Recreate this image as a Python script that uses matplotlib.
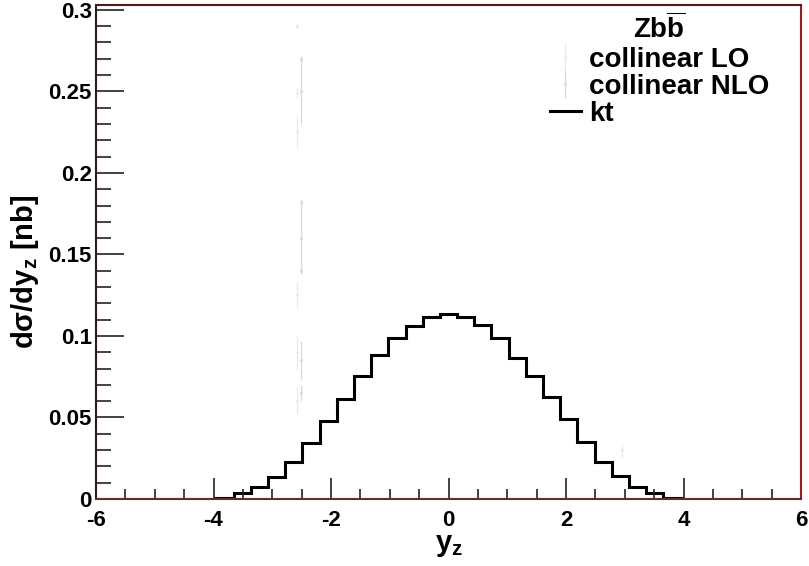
import numpy as np
import matplotlib.pyplot as plt

plt.rcParams['font.family'] = ['Liberation Sans', 'DejaVu Sans']
plt.rcParams['font.weight'] = 'bold'
plt.rcParams['axes.labelweight'] = 'bold'
plt.rcParams['axes.unicode_minus'] = False
plt.rcParams['mathtext.fontset'] = 'custom'
plt.rcParams['mathtext.rm'] = 'Liberation Sans:bold'
plt.rcParams['mathtext.it'] = 'Liberation Sans:bold'
plt.rcParams['mathtext.bf'] = 'Liberation Sans:bold'
plt.rcParams['mathtext.default'] = 'rm'

# kt histogram, 41 bins between -6 and 6
bin_edges = np.linspace(-6, 6, 42)
kt_vals = [0, 0, 0, 0, 0, 0, 0,
           0.0008, 0.0035, 0.0072, 0.0137, 0.0229, 0.0342, 0.0480, 0.0611,
           0.0755, 0.0883, 0.0986, 0.1061, 0.1115, 0.1135, 0.1118, 0.1067,
           0.0986, 0.0867, 0.0755, 0.0628, 0.0489, 0.0348, 0.0225, 0.0143,
           0.0076, 0.0035, 0.0008,
           0, 0, 0, 0, 0, 0, 0]

# collinear points (very faint in the original)
lo_x = [-2.58, -2.58, -2.58, -2.58, -2.58, -2.58, 2.95]
lo_y = [0.290, 0.249, 0.225, 0.125, 0.090, 0.060, 0.030]
lo_err = [0.002, 0.003, 0.010, 0.008, 0.010, 0.008, 0.004]

nlo_x = [-2.51, -2.51, -2.51, -2.51, -2.51, -2.51, -2.51]
nlo_y = [0.270, 0.250, 0.182, 0.160, 0.140, 0.085, 0.065]
nlo_err = [0.002, 0.020, 0.002, 0.020, 0.002, 0.012, 0.005]

fig = plt.figure(figsize=(8.09, 5.66), dpi=100)
ax = fig.add_axes([96 / 809, 67 / 566, 705 / 809, 494 / 566])

lo = ax.errorbar(lo_x, lo_y, yerr=lo_err, fmt='o', ms=1.2, color='#ececdc',
                 elinewidth=0.9, capsize=0, label='collinear LO')
nlo = ax.errorbar(nlo_x, nlo_y, yerr=nlo_err, fmt='o', ms=1.2, color='#dadada',
                  elinewidth=0.9, capsize=0, label='collinear NLO')
kt = ax.stairs(kt_vals, bin_edges, color='black', lw=2.2, label='kt')

ax.set_xlim(-6, 6)
ax.set_ylim(0, 0.303)
ax.set_xticks(np.arange(-6, 7, 2))
ax.set_xticks(np.arange(-6, 6.01, 0.5), minor=True)
ax.set_yticks(np.arange(0, 0.301, 0.05))
ax.set_yticks(np.arange(0, 0.301, 0.01), minor=True)
ax.set_yticklabels(['0', '0.05', '0.1', '0.15', '0.2', '0.25', '0.3'])
ax.tick_params(axis='both', which='both', direction='in', labelsize=16,
               width=1.2, color='#222222')
ax.tick_params(axis='y', which='major', length=20, pad=3)
ax.tick_params(axis='y', which='minor', length=11)
ax.tick_params(axis='x', which='major', length=15, pad=8)
ax.tick_params(axis='x', which='minor', length=7)

ax.spines['left'].set_color('#2a1a1a')
ax.spines['bottom'].set_color('#6a2a30')
ax.spines['top'].set_color('#5a1818')
ax.spines['right'].set_color('#a01818')
for s in ax.spines.values():
    s.set_linewidth(1.5)

ax.set_xlabel('y$_z$', fontsize=21, fontweight='bold', labelpad=0)
fig.text(25 / 809, 1 - 272 / 566, 'd\u03c3/dy$_z$ [nb]', rotation=90,
         fontsize=21, fontweight='bold', ha='center', va='center')

leg = ax.legend(handles=[lo, nlo, kt], title='$Zb\\overline{b}$', loc='upper left',
                bbox_to_anchor=((550 - 96) / 705, (499 - 13) / 494),
                frameon=False, fontsize=20, title_fontsize=20,
                handlelength=1.1, handletextpad=0.3, labelspacing=0.04,
                borderpad=0, borderaxespad=0)
leg._legend_box.sep = 2

fig.savefig('out.png', dpi=100)
